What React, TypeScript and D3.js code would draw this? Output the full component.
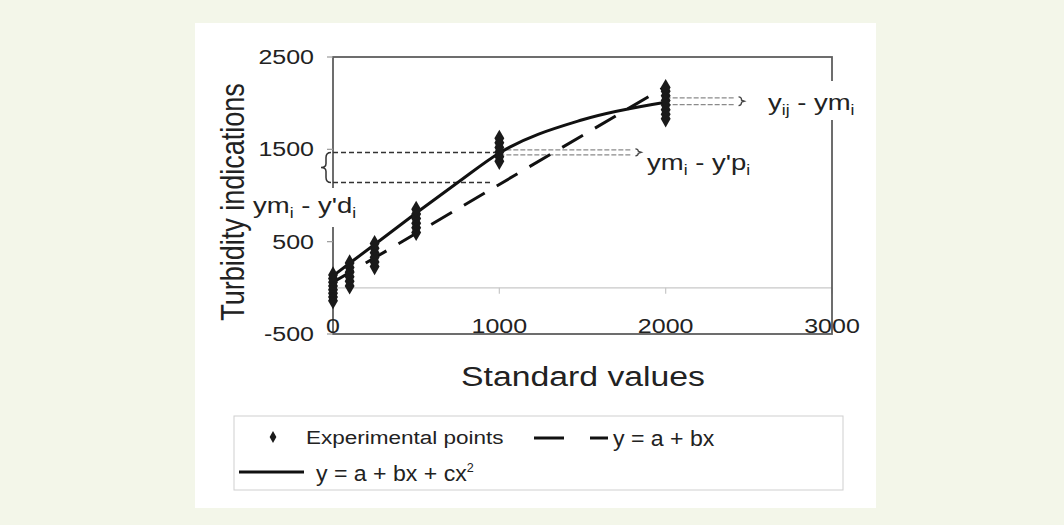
import React from 'react';
import * as d3 from 'd3';

// standard values and repeated turbidity readings at each of them
const standardValues = [0, 100, 250, 500, 1000, 2000];
const experimentalPoints = [
  [-140, -100, -60, -20, 20, 60, 100, 140],
  [20, 70, 120, 170, 220, 270],
  [230, 280, 330, 380, 430, 480],
  [600, 650, 700, 750, 800, 850],
  [1370, 1420, 1470, 1520, 1570, 1620],
  [1830, 1880, 1930, 1980, 2030, 2080, 2130, 2170],
];

// fitted curves
const quadX = [0, 250, 500, 750, 1000, 1500, 2000];
const quadY = [130, 470, 810, 1140, 1460, 1820, 2010];
const linX = [0, 2000];
const linY = [60, 2180];

// guide lines (data units)
const guideSingle = [
  { x0: 0, x1: 1000, y: 1466 },
  { x0: 0, x1: 950, y: 1140 },
];
const guideDouble = [
  { x0: 1000, x1: 1800, y: [1495, 1440] },
  { x0: 2000, x1: 2420, y: [2058, 1985] },
];

const xTicks = [0, 1000, 2000, 3000];
const yTicks = [-500, 500, 1500, 2500];

const W = 1064;
const H = 525;
const SX = 1.25; // the original scan is stretched sideways
const INK = '#222';

const x = d3.scaleLinear().domain([0, 3000]).range([333, 832]);
const y = d3.scaleLinear().domain([-500, 2500]).range([334, 57]);

const T = ({ tx, ty, size, anchor = 'start', rotate = 0, sx = SX, children }: any) => (
  <text
    transform={`translate(${tx},${ty}) scale(${sx},1)${rotate ? ` rotate(${rotate})` : ''}`}
    fontSize={size}
    textAnchor={anchor}
    fill={INK}
  >
    {children}
  </text>
);

// "a" with subscript "b", then " - " "c" with subscript "d"
const SubLabel = ({ a, b, c, d }: any) => (
  <>
    <tspan>{a}</tspan>
    <tspan fontSize="14" dy="5">{b}</tspan>
    <tspan dy="-5">{c}</tspan>
    <tspan fontSize="14" dy="5">{d}</tspan>
  </>
);

const App = () => {
  const diamond = d3.symbol().type(d3.symbolDiamond).size(85)();
  const diamondSmall = d3.symbol().type(d3.symbolDiamond).size(40)();

  const quadLine = d3
    .line<number>()
    .x((d, i) => x(quadX[i]))
    .y(d => y(d))
    .curve(d3.curveMonotoneX)(quadY);
  const linLine = d3
    .line<number>()
    .x((d, i) => x(linX[i]))
    .y(d => y(d))(linY);

  const bx = 326;
  const b1 = y(guideSingle[0].y);
  const b2 = y(guideSingle[1].y);
  const bm = (b1 + b2) / 2;
  const bigBrace = `M${bx + 5},${b1} Q${bx},${b1} ${bx},${b1 + 5} L${bx},${bm - 4} Q${bx},${bm} ${bx - 5},${bm} Q${bx},${bm} ${bx},${bm + 4} L${bx},${b2 - 5} Q${bx},${b2} ${bx + 5},${b2}`;

  const smallBrace = (px: number, ya: number, yb: number) => {
    const m = (ya + yb) / 2;
    return `M${px - 3},${ya - 1} Q${px},${ya - 1} ${px},${ya + 2} L${px},${m - 1} L${px + 3},${m} L${px},${m + 1} L${px},${yb - 2} Q${px},${yb + 1} ${px - 3},${yb + 1}`;
  };

  return (
    <svg
      width={W}
      height={H}
      style={{ position: 'absolute', left: 0, top: 0 }}
      fontFamily="'Liberation Sans', Arial, sans-serif"
    >
      <rect width={W} height={H} fill="#f3f6e9" />
      <rect x={195} y={23} width={681} height={485} fill="#fff" />

      {/* zero line and its ticks */}
      <line x1={x(0)} x2={x(3000)} y1={y(0)} y2={y(0)} stroke="#c8c8c8" strokeWidth={1.2} />
      {xTicks.slice(1).map(t => (
        <line key={t} x1={x(t)} x2={x(t)} y1={y(0)} y2={y(0) + 6} stroke="#c8c8c8" strokeWidth={1.2} />
      ))}

      {/* frame */}
      <rect x={x(0)} y={y(2500)} width={x(3000) - x(0)} height={y(-500) - y(2500)} fill="none" stroke="#5e5e5e" strokeWidth={1.8} />
      {yTicks.map(t => (
        <line key={t} x1={x(0) - 6} x2={x(0)} y1={y(t)} y2={y(t)} stroke="#9a9a9a" strokeWidth={1.2} />
      ))}

      {/* guide lines */}
      {guideSingle.map((g, i) => (
        <line key={i} x1={x(g.x0)} x2={x(g.x1)} y1={y(g.y)} y2={y(g.y)} stroke="#333" strokeWidth={1.4} strokeDasharray="5 3" />
      ))}
      {guideDouble.map((g, i) =>
        g.y.map((v, j) => (
          <line key={`${i}-${j}`} x1={x(g.x0)} x2={x(g.x1)} y1={y(v)} y2={y(v)} stroke="#8a8a8a" strokeWidth={1.2} strokeDasharray="5 2" />
        ))
      )}
      <path d={bigBrace} fill="none" stroke="#333" strokeWidth={1.5} />
      {guideDouble.map((g, i) => (
        <path key={i} d={smallBrace(x(g.x1) + 6, y(g.y[0]), y(g.y[1]))} fill="none" stroke="#444" strokeWidth={1.3} />
      ))}

      {/* fitted curves */}
      <path d={linLine || ''} fill="none" stroke="#111" strokeWidth={3} strokeDasharray="24 14" />
      <path d={quadLine || ''} fill="none" stroke="#111" strokeWidth={3} />

      {/* experimental points */}
      {standardValues.map((s, i) =>
        experimentalPoints[i].map((v, j) => (
          <path key={`${i}-${j}`} d={diamond || ''} transform={`translate(${x(s)},${y(v)})`} fill="#1a1a1a" />
        ))
      )}

      {/* annotations */}
      <rect x={250} y={188} width={112} height={39} fill="#fff" />
      <T tx={253} ty={213} size={22}>
        <SubLabel a="ym" b="i" c=" - y'd" d="i" />
      </T>
      <T tx={647} ty={170} size={22}>
        <SubLabel a="ym" b="i" c=" - y'p" d="i" />
      </T>
      <rect x={762} y={81} width={104} height={39} fill="#fff" />
      <T tx={768} ty={110} size={22}>
        <SubLabel a="y" b="ij" c=" - ym" d="i" />
      </T>

      {/* tick labels */}
      {yTicks.map(t => (
        <T key={t} tx={314} ty={y(t) + 7} size={20} anchor="end">
          {t}
        </T>
      ))}
      {xTicks.map(t => (
        <T key={t} tx={x(t)} ty={333} size={20} anchor="middle">
          {t}
        </T>
      ))}

      {/* axis titles */}
      <T tx={583} ty={386} size={27} anchor="middle">
        Standard values
      </T>
      <T tx={244} ty={202} size={27} anchor="middle" rotate={-90}>
        Turbidity indications
      </T>

      {/* legend */}
      <rect x={234} y={416} width={609} height={74} fill="#fff" stroke="#cfcfcf" strokeWidth={1} />
      <path d={diamondSmall || ''} transform="translate(273,437)" fill="#1a1a1a" />
      <T tx={306} ty={444} size={18}>
        Experimental points
      </T>
      <line x1={534} x2={608} y1={438} y2={438} stroke="#111" strokeWidth={3} strokeDasharray="30 26" />
      <T tx={613} ty={446} size={22} sx={1.05}>
        y = a + bx
      </T>
      <line x1={239} x2={304} y1={472} y2={472} stroke="#111" strokeWidth={3} />
      <T tx={316} ty={481} size={22} sx={1.05}>
        y = a + bx + cx<tspan fontSize="12" dy="-9">2</tspan>
      </T>
    </svg>
  );
};

export default App;
